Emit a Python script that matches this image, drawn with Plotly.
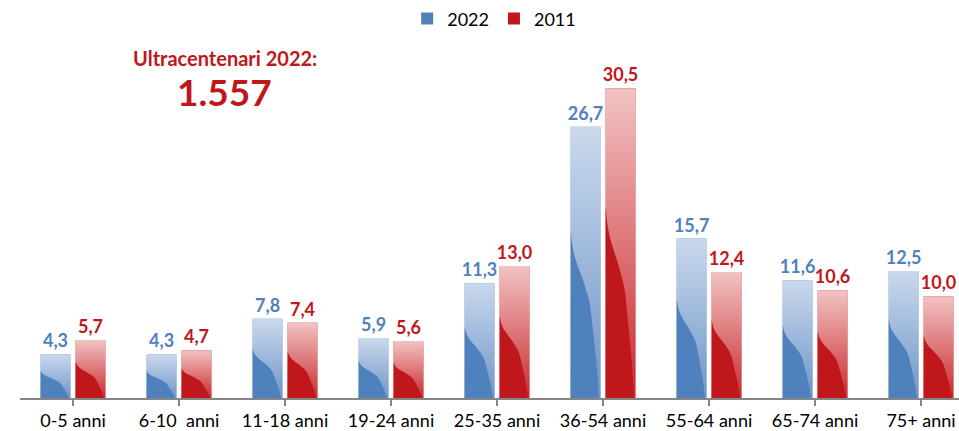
import plotly.graph_objects as go

categories = ["0-5 anni", "6-10\u00a0 anni", "11-18 anni", "19-24 anni", "25-35 anni",
              "36-54 anni", "55-64 anni", "65-74 anni", "75+ anni"]
values_2022 = [4.3, 4.3, 7.8, 5.9, 11.3, 26.7, 15.7, 11.6, 12.5]
values_2011 = [5.7, 4.7, 7.4, 5.6, 13.0, 30.5, 12.4, 10.6, 10.0]
series_names = ["2022", "2011"]
ultra_label = "Ultracentenari 2022:"
ultra_value = "1.557"

FONT = "Lato"
BLUE, RED = "#4f81bd", "#c0171c"
BAR_W = 0.28
OFFSETS = {"2022": -0.305, "2011": 0.025}
GRAD = {"2022": ("#6f95c9", "#cad9ec"), "2011": ("#c92a2f", "#f2c3c3")}
DARK = {"2022": BLUE, "2011": RED}
# wave boundary (fraction of bar width, fraction of bar height)
WAVE = [(0.0, 0.62), (0.06, 0.56), (0.14, 0.52), (0.26, 0.48), (0.38, 0.445),
        (0.5, 0.405), (0.62, 0.36), (0.69, 0.31), (0.74, 0.26), (0.8, 0.2),
        (0.86, 0.136), (0.91, 0.07), (0.95, 0.0)]


def fmt(v):
    return f"{v:.1f}".replace(".", ",")


fig = go.Figure()
xs = list(range(len(categories)))

for name, vals in zip(series_names, [values_2022, values_2011]):
    fig.add_trace(go.Bar(
        x=xs, y=vals, name=name, width=BAR_W, offset=OFFSETS[name],
        marker=dict(color=DARK[name], line=dict(width=0)),
        text=[fmt(v) for v in vals], textposition="outside",
        textfont=dict(family=FONT, size=18, color=DARK[name], weight="bold"),
        constraintext="none", cliponaxis=False, hoverinfo="skip",
    ))

for name, vals in zip(series_names, [values_2022, values_2011]):
    bottom, top = GRAD[name]
    for i, v in zip(xs, vals):
        x0 = i + OFFSETS[name]
        x1 = x0 + BAR_W
        fig.add_trace(go.Scatter(
            x=[x0, x0, x1, x1, x0], y=[0, v, v, 0, 0], mode="lines",
            fill="toself", line=dict(width=0), showlegend=False, hoverinfo="skip",
            fillgradient=dict(type="vertical", start=0, stop=v,
                              colorscale=[[0, bottom], [1, top]]),
        ))
        fig.add_trace(go.Scatter(
            x=[x0 + fx * BAR_W for fx, fy in WAVE], y=[fy * v for fx, fy in WAVE],
            mode="lines", fill="tozeroy", fillcolor=DARK[name],
            line=dict(width=0, shape="spline", smoothing=1.0),
            showlegend=False, hoverinfo="skip",
        ))

fig.add_annotation(text=f"<b>{ultra_label}</b>", xref="paper", yref="paper",
                   x=0.218, y=0.95, showarrow=False, xanchor="center", yanchor="middle",
                   font=dict(family=FONT, size=20, color=RED))
fig.add_annotation(text=f"<b>{ultra_value}</b>", xref="paper", yref="paper",
                   x=0.218, y=0.856, showarrow=False, xanchor="center", yanchor="middle",
                   font=dict(family=FONT, size=37, color=RED))

fig.update_layout(
    width=959, height=431,
    margin=dict(l=20, r=0, t=40, b=33, autoexpand=False),
    paper_bgcolor="white", plot_bgcolor="white",
    barmode="overlay",
    showlegend=True,
    legend=dict(orientation="h", x=0.505, xanchor="center", y=1.059, yanchor="middle",
                font=dict(family=FONT, size=18, color="#000000"),
                itemwidth=30, traceorder="normal"),
    xaxis=dict(range=[-0.5, 8.358], tickmode="array", tickvals=xs, ticktext=categories,
               showline=True, linecolor="#868686", linewidth=1.5,
               ticks="outside", tickson="boundaries", ticklen=6, tickcolor="#868686",
               tickwidth=1.5, showgrid=False, zeroline=False,
               tickfont=dict(family=FONT, size=18, color="#000000")),
    yaxis=dict(range=[0, 35.24], visible=False, showgrid=False, zeroline=False),
)

fig.write_html("out.html", config={"displayModeBar": False},
               post_script="document.body.style.margin='0';")
